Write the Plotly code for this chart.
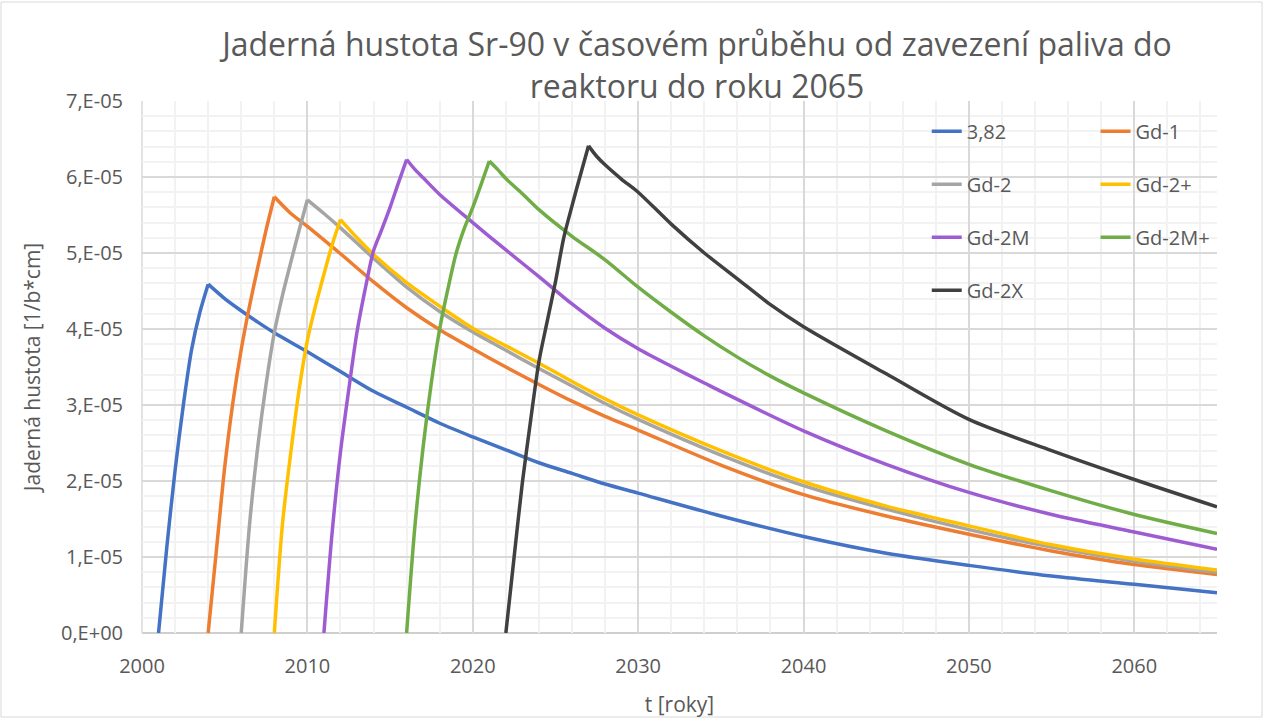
import plotly.graph_objects as go

# Sr-90 nuclide density, values in units of 1e-5 [1/(b*cm)]
SCALE = 1e-5

names = ["3,82", "Gd-1", "Gd-2", "Gd-2+", "Gd-2M", "Gd-2M+", "Gd-2X"]
colors = ["#4472C4", "#ED7D31", "#A5A5A5", "#FFC000", "#9E5CD2", "#70AD47", "#404040"]

years_382 = [2001, 2001.5, 2002, 2002.5, 2003, 2003.5, 2004, 2005, 2006, 2007, 2008, 2010, 2012, 2014,
             2016, 2018, 2020, 2022, 2024, 2026, 2028, 2030, 2035, 2040, 2045, 2050, 2055, 2060, 2065]
dens_382 = [0, 1.13, 2.14, 3.0, 3.73, 4.22, 4.59, 4.40, 4.24, 4.09, 3.95, 3.70, 3.44, 3.18,
            2.97, 2.76, 2.58, 2.41, 2.24, 2.10, 1.96, 1.84, 1.54, 1.27, 1.05, 0.89, 0.75, 0.64, 0.53]

years_gd1 = [2004, 2004.5, 2005, 2005.5, 2006, 2006.5, 2007, 2007.5, 2008, 2009, 2010, 2012, 2014, 2016,
             2018, 2020, 2022, 2024, 2026, 2028, 2030, 2035, 2040, 2045, 2050, 2055, 2060, 2065]
dens_gd1 = [0, 1.09, 2.18, 3.04, 3.73, 4.30, 4.81, 5.30, 5.74, 5.52, 5.35, 4.99, 4.62, 4.28,
            3.99, 3.74, 3.50, 3.27, 3.05, 2.85, 2.67, 2.21, 1.82, 1.54, 1.30, 1.08, 0.90, 0.77]

years_gd2 = [2006, 2006.5, 2007, 2007.5, 2008, 2008.5, 2009, 2009.5, 2010, 2011, 2012, 2014, 2016, 2018,
             2020, 2022, 2024, 2026, 2028, 2030, 2035, 2040, 2045, 2050, 2055, 2060, 2065]
dens_gd2 = [0, 1.42, 2.45, 3.27, 3.95, 4.45, 4.88, 5.30, 5.70, 5.52, 5.33, 4.93, 4.55, 4.23,
            3.96, 3.72, 3.48, 3.25, 3.02, 2.81, 2.34, 1.94, 1.63, 1.36, 1.13, 0.945, 0.80]

years_gd2p = [2008, 2008.5, 2009, 2009.5, 2010, 2010.5, 2011, 2011.5, 2012, 2013, 2014, 2016, 2018, 2020,
              2022, 2024, 2026, 2028, 2030, 2035, 2040, 2045, 2050, 2055, 2060, 2065]
dens_gd2p = [0, 1.45, 2.38, 3.20, 3.85, 4.31, 4.72, 5.11, 5.44, 5.20, 4.98, 4.61, 4.30, 4.01,
             3.78, 3.55, 3.31, 3.08, 2.87, 2.40, 1.99, 1.67, 1.41, 1.16, 0.975, 0.83]

years_gd2m = [2011, 2011.5, 2012, 2012.5, 2013, 2013.5, 2014, 2014.5, 2015, 2015.5, 2016, 2016.5, 2017,
              2018, 2020, 2022, 2024, 2026, 2028, 2030, 2032, 2034, 2035, 2040, 2045, 2050, 2055, 2060, 2065]
dens_gd2m = [0, 1.33, 2.38, 3.20, 3.96, 4.53, 5.03, 5.31, 5.60, 5.92, 6.23, 6.10, 5.99,
             5.77, 5.40, 5.04, 4.69, 4.33, 4.01, 3.74, 3.51, 3.29, 3.18, 2.66, 2.22, 1.85, 1.56, 1.33, 1.10]

years_gd2mp = [2016, 2016.5, 2017, 2017.5, 2018, 2018.5, 2019, 2019.5, 2020, 2020.5, 2021, 2021.5, 2022,
               2023, 2024, 2026, 2028, 2030, 2032, 2034, 2036, 2038, 2040, 2045, 2050, 2055, 2060, 2065]
dens_gd2mp = [0, 1.40, 2.45, 3.30, 4.00, 4.53, 5.00, 5.33, 5.60, 5.90, 6.21, 6.10, 5.98,
              5.78, 5.57, 5.22, 4.91, 4.55, 4.22, 3.91, 3.63, 3.38, 3.16, 2.66, 2.22, 1.87, 1.56, 1.31]

years_gd2x = [2022, 2022.5, 2023, 2023.5, 2024, 2024.5, 2025, 2025.5, 2026, 2026.5, 2027, 2027.5, 2028,
              2029, 2030, 2032, 2034, 2036, 2038, 2040, 2045, 2050, 2055, 2060, 2065]
dens_gd2x = [0, 1.00, 1.98, 2.80, 3.57, 4.10, 4.62, 5.20, 5.62, 6.02, 6.41, 6.27, 6.16,
             5.97, 5.80, 5.38, 5.00, 4.66, 4.32, 4.03, 3.41, 2.81, 2.40, 2.02, 1.66]

series_years = [years_382, years_gd1, years_gd2, years_gd2p, years_gd2m, years_gd2mp, years_gd2x]
series_dens = [dens_382, dens_gd1, dens_gd2, dens_gd2p, dens_gd2m, dens_gd2mp, dens_gd2x]

y_tickvals = [0, 1, 2, 3, 4, 5, 6, 7]
y_ticktext = ["0,E+00", "1,E-05", "2,E-05", "3,E-05", "4,E-05", "5,E-05", "6,E-05", "7,E-05"]
x_tickvals = [2000, 2010, 2020, 2030, 2040, 2050, 2060]

# two legend columns: left column and right column
legend_of = ["legend", "legend2", "legend", "legend2", "legend", "legend2", "legend"]

TEXT = "#595959"
FONT = "Open Sans"

fig = go.Figure()
for name, col, xs, ys, lg in zip(names, colors, series_years, series_dens, legend_of):
    # irradiation (build-up) part and decay part drawn as smooth pieces joined at the peak
    k = ys.index(max(ys))
    for part, (px, py) in enumerate([(xs[:k + 1], ys[:k + 1]), (xs[k:], ys[k:])]):
        fig.add_trace(go.Scatter(
            x=px, y=[v * SCALE for v in py], name=name, mode="lines",
            line=dict(color=col, width=3.5, shape="spline", smoothing=0.8),
            legend=lg, legendgroup=name, showlegend=(part == 0),
        ))

legend_common = dict(
    bgcolor="rgba(255,255,255,0)", borderwidth=0, font=dict(family=FONT, size=20, color=TEXT),
    tracegroupgap=24, xanchor="left", yanchor="top", traceorder="grouped",
)

fig.update_layout(
    width=1264, height=719,
    margin=dict(l=142, r=47, t=101, b=86, autoexpand=False),
    paper_bgcolor="white", plot_bgcolor="white",
    font=dict(family=FONT, size=20, color=TEXT),
    title=dict(
        text="Jaderná hustota Sr-90 v časovém průběhu od zavezení paliva do<br>reaktoru do roku 2065",
        x=697 / 1264, xanchor="center", xref="container",
        y=1 - 56 / 719, yanchor="top", yref="container",
        font=dict(family=FONT, size=32, color=TEXT),
    ),
    showlegend=True,
    legend=dict(x=0.730, y=0.980, **legend_common),
    legend2=dict(x=0.887, y=0.980, **legend_common),
    xaxis=dict(
        range=[2000, 2065], tickvals=x_tickvals, ticks="", showline=False, zeroline=False,
        automargin=False,
        showgrid=True, gridcolor="#D9D9D9", gridwidth=1.5,
        minor=dict(dtick=2, tick0=2000, showgrid=True, gridcolor="#F2F2F2", gridwidth=1.5),
        tickfont=dict(family=FONT, size=20, color=TEXT), ticklabelstandoff=19,
        title=dict(text="t [roky]", font=dict(family=FONT, size=21, color=TEXT), standoff=19),
    ),
    yaxis=dict(
        range=[0, 7 * SCALE], tickvals=[v * SCALE for v in y_tickvals], ticktext=y_ticktext,
        ticks="", showline=False, zeroline=False, automargin=False,
        showgrid=True, gridcolor="#D9D9D9", gridwidth=1.5,
        minor=dict(dtick=0.2 * SCALE, tick0=0, showgrid=True, gridcolor="#F2F2F2", gridwidth=1.5),
        tickfont=dict(family=FONT, size=20, color=TEXT), ticklabelstandoff=18,
        title=dict(text="Jaderná hustota [1/b*cm]", font=dict(family=FONT, size=21, color=TEXT), standoff=14),
    ),
    shapes=[
        # left vertical and bottom axis lines of the plot area
        dict(type="line", xref="paper", yref="paper", x0=0, x1=1, y0=0, y1=0,
             line=dict(color="#BFBFBF", width=1.5), layer="below"),
        dict(type="line", xref="paper", yref="paper", x0=0, x1=0, y0=0, y1=1,
             line=dict(color="#D9D9D9", width=1.5), layer="below"),
        # outer chart frame
        dict(type="rect", xref="paper", yref="paper",
             x0=(1 - 142) / 1075, x1=(1262 - 142) / 1075,
             y0=(633 - 717) / 532, y1=(633 - 2) / 532,
             line=dict(color="#D9D9D9", width=1)),
    ],
)

fig.write_html("out.html")
